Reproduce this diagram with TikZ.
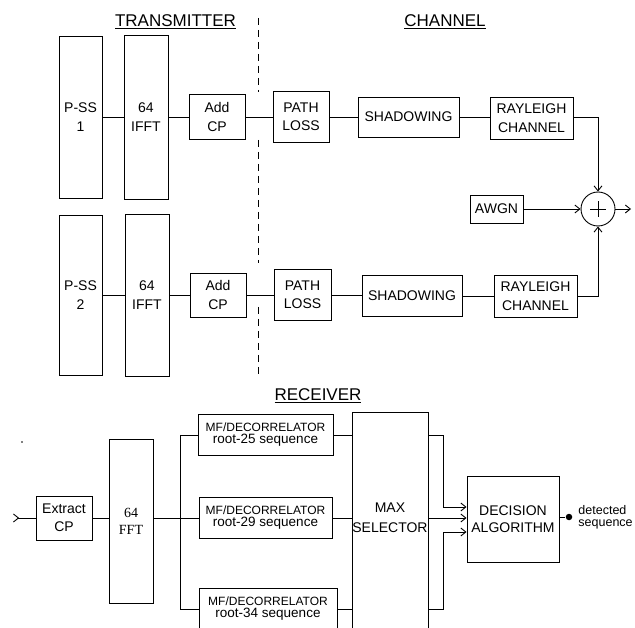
\documentclass[tikz,border=0pt]{standalone}
\usepackage{fontspec}
\setmainfont{Liberation Sans}
\newfontfamily\fftfont{Liberation Serif}
\usetikzlibrary{arrows.meta}
\begin{document}
\begin{tikzpicture}[x=1pt,y=-1pt,line width=0.9pt,
  >={Straight Barb[length=5pt,width=8pt]},
  blk/.style={draw,rectangle,inner sep=0pt,align=center,font=\fontsize{14}{18.5}\selectfont},
  title/.style={anchor=base,inner sep=0pt,font=\fontsize{17}{20}\selectfont},
  mfbox/.style={draw,rectangle,inner sep=0pt,align=center,minimum height=41pt},
  sep/.style={dash pattern=on 7pt off 5pt,line width=0.8pt}]
\fill[white] (0,0) rectangle (635,628);
\useasboundingbox (0,0) rectangle (635,628);
\clip (0,0) rectangle (635,628);

% titles
\node[title] (ttx) at (175.5,27) {\underline{TRANSMITTER}};
\node[title] (tch) at (445,27) {\underline{CHANNEL}};
\node[title] (trx) at (318,401) {\underline{RECEIVER}};

% separator
\draw[sep] (258,18) -- (258,92);
\draw[sep] (258,140) -- (258,263);
\draw[sep] (258,307) -- (258,376);

% upper chain
\node[blk,minimum width=43pt,minimum height=162pt] (pss1) at (80.5,117) {P-SS\\1};
\node[blk,minimum width=44pt,minimum height=164pt] (ifft1) at (146,117) {64\\IFFT};
\node[blk,minimum width=56pt,minimum height=45pt] (acp1) at (217,117) {Add\\CP};
\node[blk,minimum width=56pt,minimum height=51pt] (pl1) at (301,117) {PATH\\LOSS};
\node[blk,minimum width=101pt,minimum height=40pt] (sh1) at (408.5,117) {SHADOWING};
\node[blk,minimum width=83pt,minimum height=42pt] (ray1) at (531.5,118) {RAYLEIGH\\CHANNEL};

% lower chain
\node[blk,minimum width=43pt,minimum height=160pt] (pss2) at (80.5,295) {P-SS\\2};
\node[blk,minimum width=44pt,minimum height=162pt] (ifft2) at (147,295) {64\\IFFT};
\node[blk,minimum width=56pt,minimum height=44pt] (acp2) at (218,295) {Add\\CP};
\node[blk,minimum width=57pt,minimum height=51pt] (pl2) at (302.5,295) {PATH\\LOSS};
\node[blk,minimum width=100pt,minimum height=41pt] (sh2) at (412,296) {SHADOWING};
\node[blk,minimum width=83pt,minimum height=42pt] (ray2) at (535.5,296) {RAYLEIGH\\CHANNEL};

% sum and noise
\node[draw,circle,minimum size=34pt,inner sep=0pt] (sum) at (598,209) {};
\draw[line width=0.8pt] ([xshift=-8pt]sum.center) -- ([xshift=8pt]sum.center);
\draw[line width=0.8pt] ([yshift=-8pt]sum.center) -- ([yshift=8pt]sum.center);
\node[blk,minimum width=53pt,minimum height=28pt] (awgn) at (496.5,209) {AWGN};
\coordinate (sumout) at (631,209);

% upper connectors
\draw (pss1) -- (ifft1);
\draw (ifft1) -- (acp1);
\draw (acp1) -- (pl1);
\draw (pl1) -- (sh1);
\draw (sh1.east) -- (sh1.east -| ray1.west);
\draw[->] (ray1.east |- sh1.east) -| (sum.north);
% lower connectors
\draw (pss2) -- (ifft2);
\draw (ifft2) -- (acp2);
\draw (acp2) -- (pl2);
\draw (pl2.east) -- (pl2.east -| sh2.west);
\draw (sh2) -- (ray2);
\draw[->] (ray2.east) -| (sum.south);
\draw[->] (awgn) -- (sum);
\draw[->] (sum) -- (sumout);

% receiver
\fill (22,442) circle (0.8pt);
\coordinate (rxin) at (13,518);
\node[blk,minimum width=56pt,minimum height=44pt] (extract) at (64,518) {Extract\\CP};
\node[blk,minimum width=44pt,minimum height=164pt,font=\fftfont\fontsize{14}{17}\selectfont] (fft) at (131,521) {64\\FFT};
\node[mfbox,minimum width=135pt] (mf1) at (265.5,435) {{\fontsize{12}{16}\selectfont MF/DECORRELATOR}\\{\fontsize{13.5}{16}\selectfont root-25 sequence}};
\node[mfbox,minimum width=133pt] (mf2) at (265.5,518) {{\fontsize{12}{16}\selectfont MF/DECORRELATOR}\\{\fontsize{13.5}{16}\selectfont root-29 sequence}};
\node[mfbox,minimum width=138pt] (mf3) at (268,609) {{\fontsize{12}{16}\selectfont MF/DECORRELATOR}\\{\fontsize{13.5}{16}\selectfont root-34 sequence}};
\node[draw,rectangle,minimum width=76pt,minimum height=228pt,inner sep=0pt] (maxsel) at (390,526) {};
\node[align=center,inner sep=0pt,font=\fontsize{14}{20}\selectfont] (maxtxt) at (390,518) {MAX\\SELECTOR};
\node[blk,minimum width=92pt,minimum height=86pt,font=\fontsize{14}{17}\selectfont] (dec) at (513,519) {DECISION\\ALGORITHM};
\node[circle,fill,inner sep=0pt,minimum size=6.5pt] (dot) at (569,517) {};
\node[anchor=west,align=left,inner sep=0pt,font=\fontsize{12.5}{12}\selectfont] (det) at (578,517) {detected\\sequence};

\coordinate (br) at (180,518);
\draw[>-] (rxin) -- (extract.west |- rxin);
\draw (extract.east |- rxin) -- (fft.west |- rxin);
\draw (fft.east |- br) -- (br);
\draw (br |- mf1) -- (br |- mf3);
\draw (br |- mf1) -- (mf1.west);
\draw (br) -- (mf2.west);
\draw (br |- mf3) -- (mf3.west);
\draw (mf1.east) -- (mf1.east -| maxsel.west);
\draw (mf2.east) -- (mf2.east -| maxsel.west);
\draw (mf3.east) -- (mf3.east -| maxsel.west);
\draw[->] (maxsel.east |- mf1) -- ++(15,0) |- ([yshift=12pt]dec.west);
\draw[->] (maxsel.east |- mf2) -- (dec.west |- mf2);
\draw[->] (maxsel.east |- mf3) -- ++(15,0) |- ([yshift=-13pt]dec.west);
\draw (dec.east |- dot) -- (dot);
\end{tikzpicture}
\end{document}
